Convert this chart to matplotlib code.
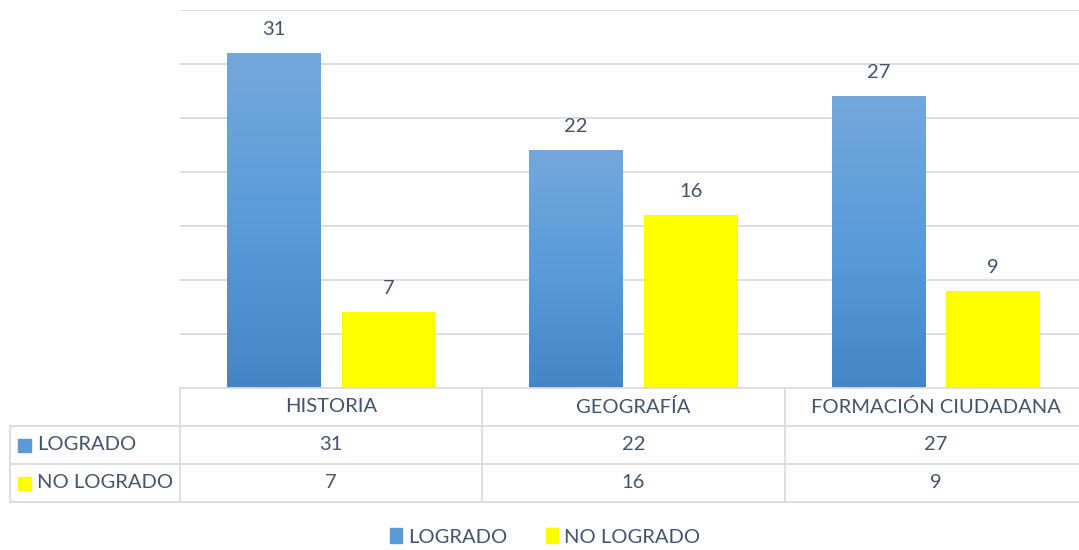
import matplotlib
matplotlib.use("Agg")
import matplotlib.pyplot as plt
import numpy as np
from matplotlib.patches import Patch, Rectangle
from matplotlib.colors import LinearSegmentedColormap

categories = ["HISTORIA", "GEOGRAFÍA", "FORMACIÓN CIUDADANA"]
series_names = ["LOGRADO", "NO LOGRADO"]
logrado = [31, 22, 27]
no_logrado = [7, 16, 9]

W, H = 1079, 550
TXT = "#44546A"
GRID = "#D9DDE3"
YELLOW = "#FFFF00"
BLUE = "#5B9BD5"
plt.rcParams["font.family"] = ["Lato", "DejaVu Sans"]

fig = plt.figure(figsize=(W / 100, H / 100), dpi=100)
AW = 907  # plot area runs a little past the right edge
ax = fig.add_axes([180 / W, (H - 388) / H, AW / W, 378 / H])

x = np.arange(len(categories))
bw, off = 0.31, 0.19
b1 = ax.bar(x - off, logrado, bw, color=BLUE, zorder=2)
b2 = ax.bar(x + off, no_logrado, bw, color=YELLOW, zorder=2)

# gradient fill on the blue bars
cmap = LinearSegmentedColormap.from_list("g", ["#4485C5", "#5A9BDA", "#74A8DC"])
grad = np.linspace(0, 1, 256).reshape(-1, 1)
for r in b1:
    x0, y0, w, h = r.get_x(), r.get_y(), r.get_width(), r.get_height()
    im = ax.imshow(grad, cmap=cmap, origin="lower", aspect="auto",
                   extent=[x0, x0 + w, y0, y0 + h], zorder=3)
    im.set_clip_path(r)
ax.set_xlim(-0.5, 2.5)
ax.set_ylim(0, 35)

for bars, vals in ((b1, logrado), (b2, no_logrado)):
    for r, v in zip(bars, vals):
        ax.annotate(str(v), (r.get_x() + r.get_width() / 2, v), xytext=(0, 17),
                    textcoords="offset points", ha="center", va="center",
                    fontsize=14.5, color=TXT)

ax.set_yticks(np.arange(0, 36, 5))
ax.yaxis.grid(True, color=GRID, lw=1.3)
ax.set_axisbelow(True)
ax.tick_params(left=False, bottom=False, labelleft=False, labelbottom=False)
for s in ax.spines.values():
    s.set_visible(False)

# data table below the plot
tax = fig.add_axes([180 / W, (H - 502) / H, AW / W, 114 / H])
tax.set_xlim(-0.5, 2.5)
tax.set_ylim(3, 0)
tax.axis("off")
px = AW / 3
left = -0.5 - 170 / px
lk = dict(color=GRID, lw=1.3, clip_on=False)
tax.plot([-0.5, 2.5], [0, 0], **lk)
for yy in (1, 2, 3):
    tax.plot([left, 2.5], [yy, yy], **lk)
tax.plot([left, left], [1, 3], **lk)
for xx in (-0.5, 0.5, 1.5):
    tax.plot([xx, xx], [0, 3], **lk)

for i, c in enumerate(categories):
    tax.text(i, 0.5, c, ha="center", va="center", fontsize=14.5, color=TXT)
    tax.text(i, 1.5, str(logrado[i]), ha="center", va="center", fontsize=14.5, color=TXT)
    tax.text(i, 2.5, str(no_logrado[i]), ha="center", va="center", fontsize=14.5, color=TXT)

for row, (name, col) in enumerate(zip(series_names, [BLUE, YELLOW]), start=1):
    tax.add_patch(Rectangle((left + 8 / px, row + 0.5 - 6.5 / 38), 13 / px, 13 / 38,
                            color=col, clip_on=False))
    tax.text(left + 27 / px, row + 0.5, name, ha="left", va="center",
             fontsize=14.5, color=TXT, clip_on=False)

handles = [Patch(color=BLUE), Patch(color=YELLOW)]
fig.legend(handles, series_names, loc="center", bbox_to_anchor=(545 / W, 13 / H),
           ncol=2, frameon=False, fontsize=14.5, labelcolor=TXT,
           handlelength=0.6, handleheight=0.75, handletextpad=0.3, columnspacing=1.9)

fig.savefig("out.png", dpi=100)
